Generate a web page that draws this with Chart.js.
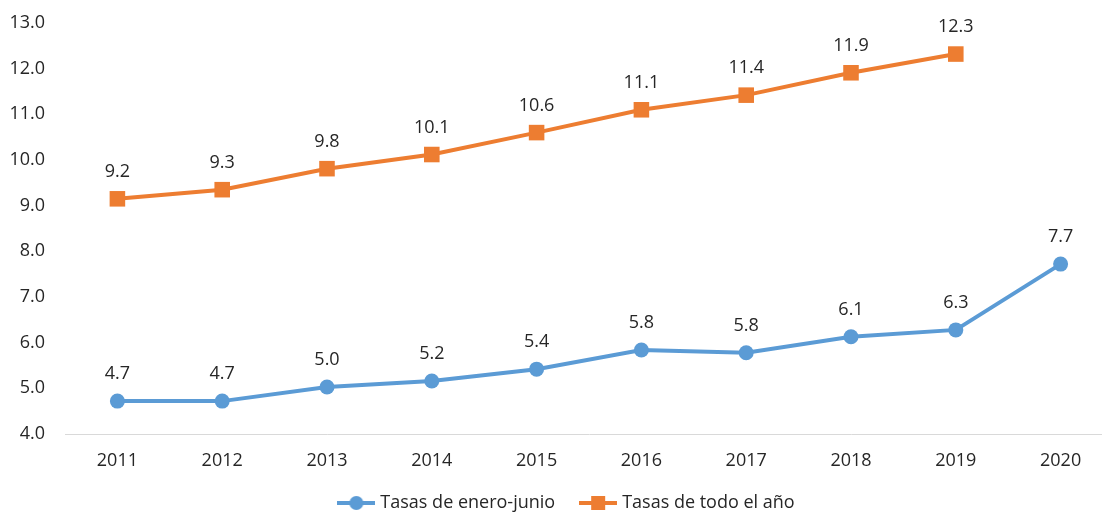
<!DOCTYPE html>
<html>
<head>
<meta charset="utf-8">
<script src="https://cdn.jsdelivr.net/npm/chart.js@4"></script>
<style>
  html, body { margin: 0; padding: 0; background: #fff; overflow: hidden; }
  #wrap { position: absolute; left: 0; top: 0; width: 1130px; height: 522px; }
</style>
</head>
<body>
<div id="wrap"><canvas id="myChart" width="1130" height="522"></canvas></div>
<script>
const years = ['2011', '2012', '2013', '2014', '2015', '2016', '2017', '2018', '2019', '2020'];
const eneroJunio = [4.72, 4.72, 5.03, 5.16, 5.42, 5.84, 5.78, 6.13, 6.28, 7.72];
const eneroJunioLabels = ['4.7', '4.7', '5.0', '5.2', '5.4', '5.8', '5.8', '6.1', '6.3', '7.7'];
const todoAnio = [9.15, 9.35, 9.81, 10.12, 10.6, 11.1, 11.42, 11.91, 12.32, null];
const todoAnioLabels = ['9.2', '9.3', '9.8', '10.1', '10.6', '11.1', '11.4', '11.9', '12.3', ''];

const fontFamily = '"Open Sans", sans-serif';
const fontSize = 18;
const textColor = '#262626';
const blue = '#5B9BD5';
const orange = '#ED7D31';

// muestra de linea + marcador para la leyenda
function legendSwatch(color, square) {
    const c = document.createElement('canvas');
    c.width = 38;
    c.height = 16;
    const g = c.getContext('2d');
    g.strokeStyle = color;
    g.lineWidth = 4;
    g.beginPath();
    g.moveTo(0, 8);
    g.lineTo(38, 8);
    g.stroke();
    g.fillStyle = color;
    if (square) {
        g.fillRect(12, 1, 14, 14);
    } else {
        g.beginPath();
        g.arc(19, 8, 7, 0, Math.PI * 2);
        g.fill();
    }
    return c;
}

const pointLabels = {
    id: 'pointLabels',
    beforeDraw(chart) {
        // la leyenda del original queda algo a la derecha del centro
        chart.legend.left = 23;
    },
    afterDatasetsDraw(chart) {
        const ctx = chart.ctx;
        const texts = [eneroJunioLabels, todoAnioLabels];
        ctx.save();
        ctx.font = fontSize + 'px ' + fontFamily;
        ctx.fillStyle = textColor;
        ctx.textAlign = 'center';
        ctx.textBaseline = 'alphabetic';
        chart.data.datasets.forEach((ds, i) => {
            chart.getDatasetMeta(i).data.forEach((pt, j) => {
                if (ds.data[j] === null) return;
                ctx.fillText(texts[i][j], pt.x, pt.y - 22);
            });
        });
        ctx.restore();
    }
};

const ctx = document.getElementById('myChart').getContext('2d');
new Chart(ctx, {
    type: 'line',
    data: {
        labels: years,
        datasets: [{
            label: 'Tasas de enero-junio',
            data: eneroJunio,
            borderColor: blue,
            backgroundColor: blue,
            borderWidth: 4,
            pointStyle: 'circle',
            pointRadius: 7.5,
            pointBorderWidth: 0,
            pointHoverRadius: 7.5,
            lineTension: 0
        }, {
            label: 'Tasas de todo el año',
            data: todoAnio,
            borderColor: orange,
            backgroundColor: orange,
            borderWidth: 4,
            pointStyle: 'rect',
            pointRadius: 11,
            pointBorderWidth: 0,
            pointHoverRadius: 11,
            lineTension: 0
        }]
    },
    options: {
        responsive: false,
        animation: false,
        layout: {
            autoPadding: false,
            padding: { left: 0, right: 17, top: 23, bottom: 0 }
        },
        scales: {
            x: {
                offset: true,
                afterFit: s => { s.height = 32; },
                grid: { display: false, drawTicks: false },
                border: { display: true, color: '#d9d9d9', width: 1 },
                ticks: {
                    padding: 16,
                    color: textColor,
                    font: { family: fontFamily, size: fontSize }
                }
            },
            y: {
                min: 4,
                max: 13,
                afterFit: s => {
                    s.width = 65;
                    s.paddingTop = 0;
                    s.paddingBottom = 0;
                },
                grid: { display: false, drawTicks: false },
                border: { display: false },
                ticks: {
                    stepSize: 1,
                    padding: 20,
                    color: textColor,
                    font: { family: fontFamily, size: fontSize },
                    callback: v => v.toFixed(1)
                }
            }
        },
        plugins: {
            legend: {
                position: 'bottom',
                labels: {
                    usePointStyle: true,
                    pointStyleWidth: 30,
                    padding: 28,
                    color: textColor,
                    font: { family: fontFamily, size: fontSize },
                    generateLabels(chart) {
                        const items = Chart.defaults.plugins.legend.labels.generateLabels(chart);
                        items.forEach((it, i) => {
                            it.pointStyle = legendSwatch(i === 0 ? blue : orange, i === 1);
                        });
                        return items;
                    }
                }
            },
            tooltip: { enabled: false }
        }
    },
    plugins: [pointLabels]
});
</script>
</body>
</html>
